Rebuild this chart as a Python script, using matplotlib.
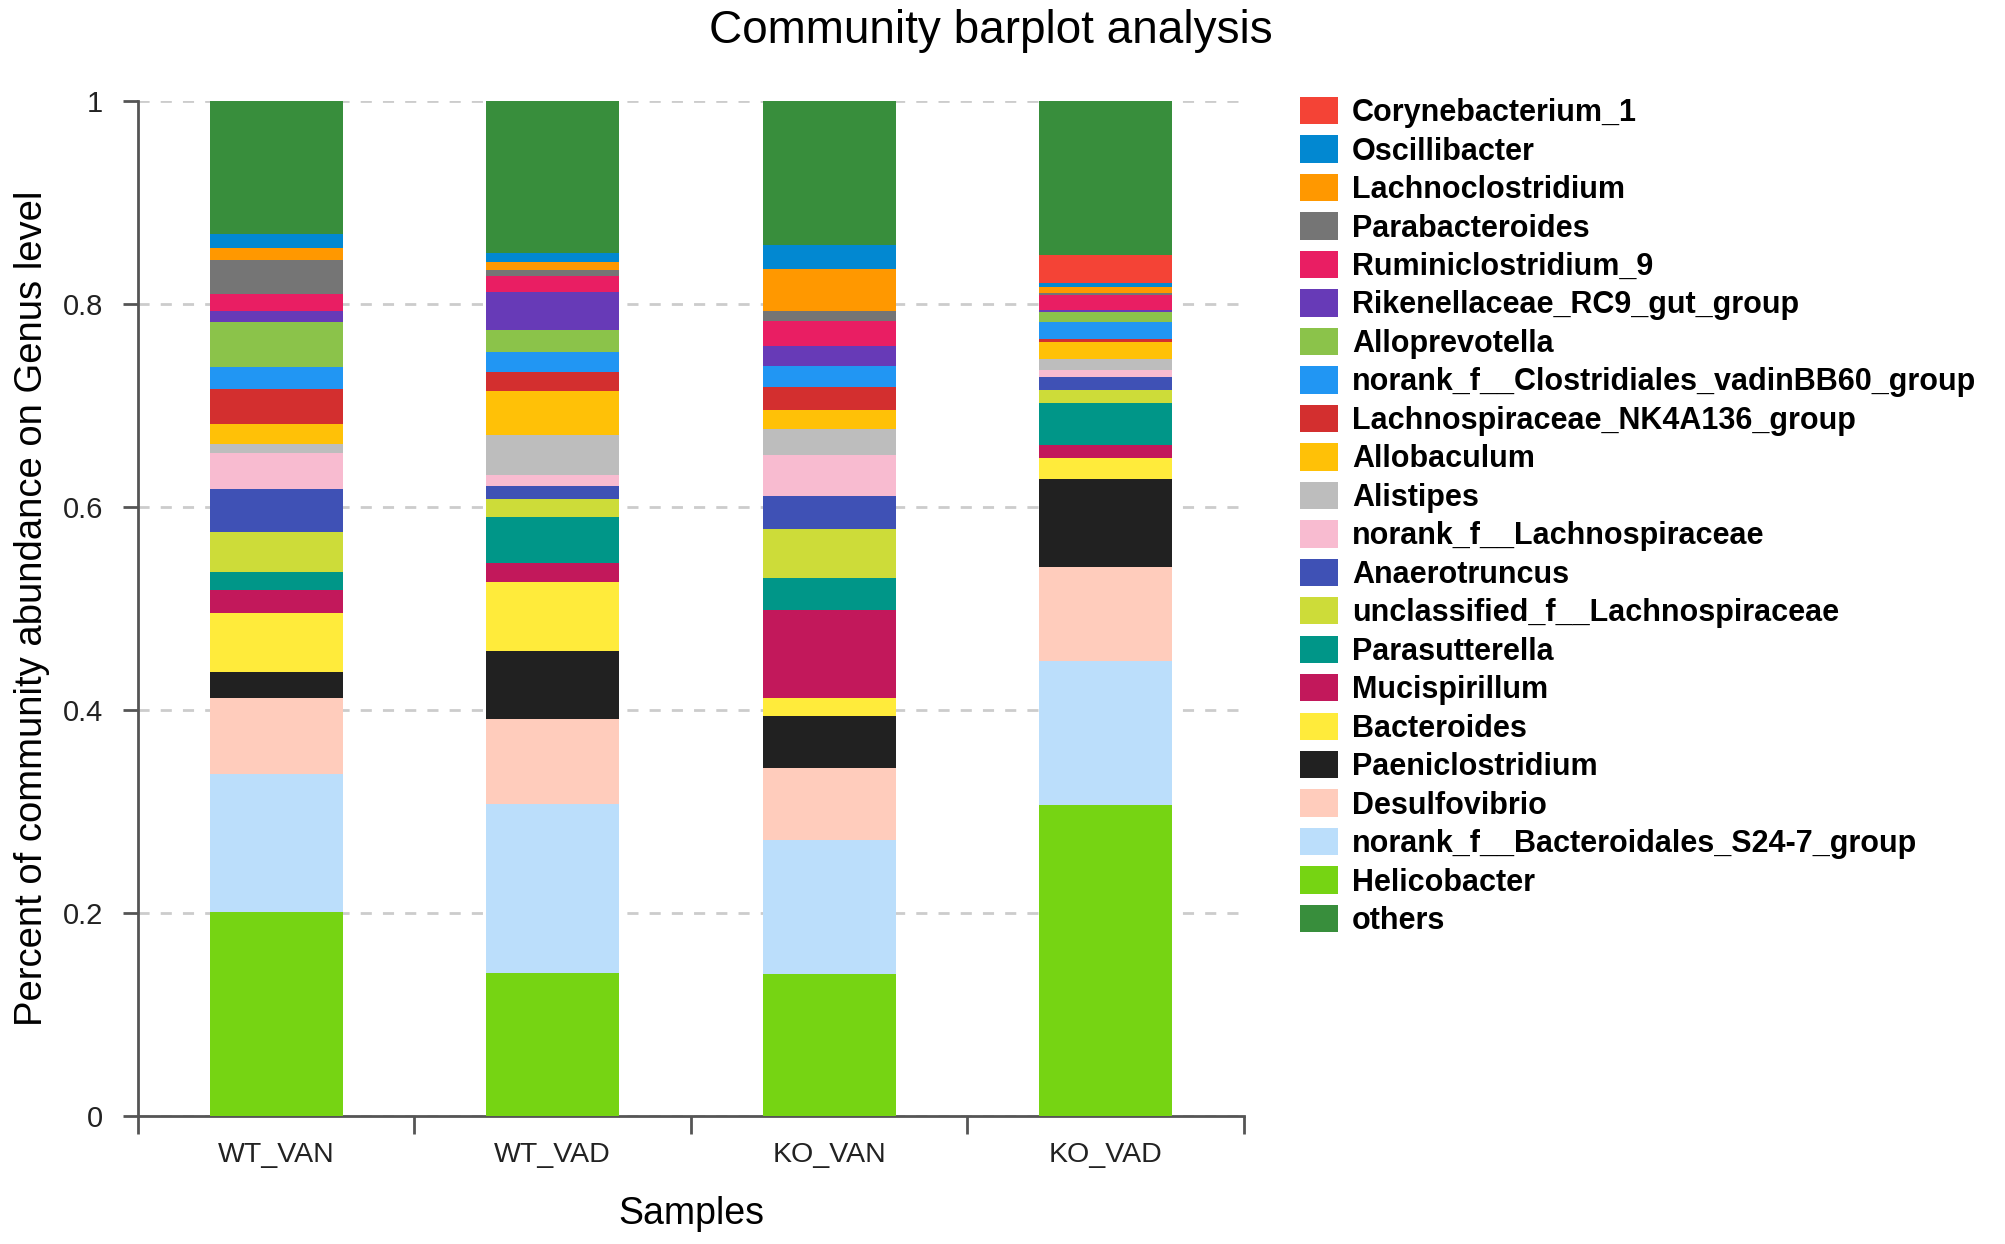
import numpy as np
import matplotlib
matplotlib.use("Agg")
import matplotlib.pyplot as plt
from matplotlib.patches import Patch
from matplotlib.ticker import FixedLocator

plt.rcParams['font.family'] = ['Liberation Sans', 'DejaVu Sans']

## samples on the x axis
samples = ['WT_VAN', 'WT_VAD', 'KO_VAN', 'KO_VAD']

## taxa, in legend order (top of the bar first, "others" last)
taxa = ['Corynebacterium_1', 'Oscillibacter', 'Lachnoclostridium',
        'Parabacteroides', 'Ruminiclostridium_9', 'Rikenellaceae_RC9_gut_group',
        'Alloprevotella', 'norank_f__Clostridiales_vadinBB60_group',
        'Lachnospiraceae_NK4A136_group', 'Allobaculum', 'Alistipes',
        'norank_f__Lachnospiraceae', 'Anaerotruncus',
        'unclassified_f__Lachnospiraceae', 'Parasutterella', 'Mucispirillum',
        'Bacteroides', 'Paeniclostridium', 'Desulfovibrio',
        'norank_f__Bacteroidales_S24-7_group', 'Helicobacter', 'others']

colors = ['#F44336', '#0288D1', '#FF9800', '#757575', '#E91E63', '#673AB7',
          '#8BC34A', '#2196F3', '#D32F2F', '#FFC107', '#BDBDBD', '#F8BBD0',
          '#3F51B5', '#CDDC39', '#009688', '#C2185B', '#FFEB3B', '#212121',
          '#FFCCBC', '#BBDEFB', '#76D413', '#388E3C']

## relative abundance per sample, same order as taxa
wt_van = [0.000, 0.014, 0.0116, 0.0332, 0.0169, 0.0112, 0.0437, 0.0218,
          0.035, 0.0196, 0.0088, 0.0357, 0.0425, 0.039, 0.018, 0.022,
          0.059, 0.025, 0.075, 0.136, 0.201, 0.131]
wt_vad = [0.000, 0.009, 0.0073, 0.006, 0.0157, 0.038, 0.0216, 0.0194,
          0.019, 0.043, 0.039, 0.011, 0.0133, 0.0177, 0.0453, 0.0187,
          0.068, 0.067, 0.084, 0.166, 0.141, 0.150]
ko_van = [0.000, 0.0238, 0.0414, 0.0101, 0.0249, 0.0193, 0.000, 0.021,
          0.022, 0.0196, 0.0256, 0.0403, 0.0325, 0.0475, 0.0315, 0.0874,
          0.0179, 0.0509, 0.0708, 0.1324, 0.1396, 0.1415]
ko_vad = [0.027, 0.004, 0.006, 0.002, 0.015, 0.0015, 0.010, 0.0166,
          0.003, 0.017, 0.011, 0.0066, 0.013, 0.0133, 0.0407, 0.0129,
          0.0211, 0.0863, 0.093, 0.142, 0.306, 0.152]

data = np.array([wt_van, wt_vad, ko_van, ko_vad]).T

fig = plt.figure(figsize=(20.05, 12.44), dpi=100)
ax = fig.add_axes([0.0688, 0.1029, 0.5516, 0.8159])

x = np.arange(len(samples))
# stack from bottom: Helicobacter ... Corynebacterium, then others on top
order = list(range(len(taxa) - 2, -1, -1)) + [len(taxa) - 1]
bottom = np.zeros(len(samples))
for i in order:
    ax.bar(x, data[i], 0.48, bottom=bottom, color=colors[i], linewidth=0, zorder=3)
    bottom += data[i]

ax.set_xlim(-0.5, len(samples) - 0.5)
ax.set_ylim(0, 1)
ax.set_xticks(x)
ax.set_xticklabels(samples)
ax.xaxis.set_minor_locator(FixedLocator(np.arange(-0.5, len(samples), 1.0)))
ax.set_yticks([0, 0.2, 0.4, 0.6, 0.8, 1])
ax.set_yticklabels(['0', '0.2', '0.4', '0.6', '0.8', '1'])

for s in ['top', 'right']:
    ax.spines[s].set_visible(False)
for s in ['left', 'bottom']:
    ax.spines[s].set_color('#555555')
    ax.spines[s].set_linewidth(2)

ax.tick_params(axis='x', which='major', length=0, pad=19, labelsize=20.5, colors='#222222')
ax.tick_params(axis='x', which='minor', length=13, width=2, color='#555555')
ax.tick_params(axis='y', length=11, width=2, color='#555555', pad=14, labelsize=21, labelcolor='#222222')
ax.yaxis.grid(True, linestyle=(0, (4, 4)), color='#cccccc', linewidth=2, zorder=0)
ax.set_axisbelow(True)

ax.set_xlabel('Samples', fontsize=27, labelpad=20)
ax.set_ylabel('Percent of community abundance on Genus level', fontsize=27.5, labelpad=9)

fig.text(0.494, 0.975, 'Community barplot analysis', fontsize=33, ha='center', va='center')

handles = [Patch(facecolor=c, edgecolor='none') for c in colors]
leg = ax.legend(handles, taxa, loc='upper left', bbox_to_anchor=(1.04, 1.016),
                frameon=False, prop={'weight': 'bold', 'size': 22},
                handlelength=1.24, handleheight=1.0, handletextpad=0.45,
                labelspacing=0.24, borderaxespad=0)

fig.savefig('out.png', dpi=100)
